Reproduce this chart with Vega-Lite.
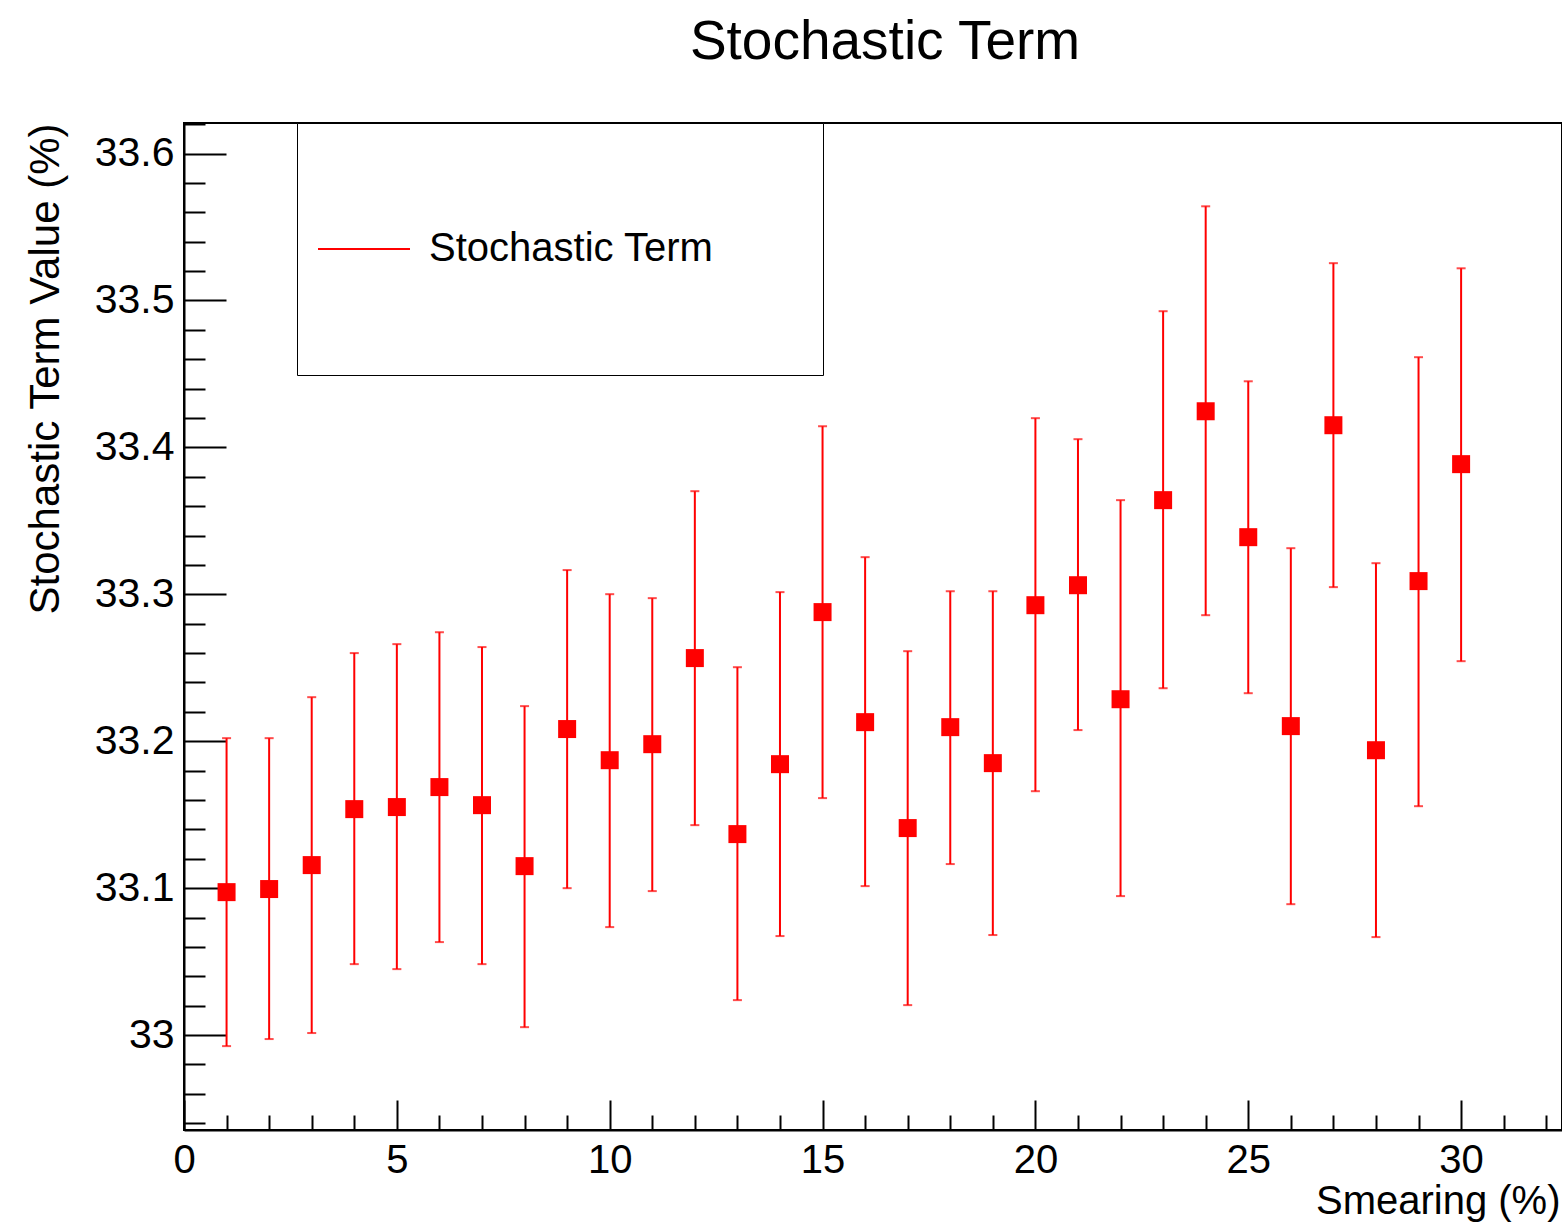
{
  "$schema": "https://vega.github.io/schema/vega-lite/v6.json",
  "width": 1378,
  "height": 1007,
  "autosize": {"type": "none"},
  "padding": {"left": 184, "top": 123, "right": 0, "bottom": 93},
  "background": "white",
  "config": {
    "font": "Liberation Sans",
    "view": {"stroke": "black", "strokeWidth": 2}
  },
  "title": {
    "text": "Stochastic Term",
    "font": "Liberation Sans",
    "fontSize": 55,
    "fontWeight": "normal",
    "color": "black",
    "anchor": "middle",
    "frame": "group",
    "baseline": "alphabetic",
    "offset": 9,
    "dx": 12
  },
  "resolve": {"axis": {"y": "independent"}},
  "data": {
    "values": [
      {"x": 1, "y": 33.0973, "lo": 32.9925, "hi": 33.2021, "series": "Stochastic Term"},
      {"x": 2, "y": 33.0994, "lo": 32.9973, "hi": 33.2021, "series": "Stochastic Term"},
      {"x": 3, "y": 33.1157, "lo": 33.0014, "hi": 33.2300, "series": "Stochastic Term"},
      {"x": 4, "y": 33.1538, "lo": 33.0483, "hi": 33.2600, "series": "Stochastic Term"},
      {"x": 5, "y": 33.1552, "lo": 33.0449, "hi": 33.2661, "series": "Stochastic Term"},
      {"x": 6, "y": 33.1688, "lo": 33.0633, "hi": 33.2742, "series": "Stochastic Term"},
      {"x": 7, "y": 33.1565, "lo": 33.0483, "hi": 33.2641, "series": "Stochastic Term"},
      {"x": 8, "y": 33.1150, "lo": 33.0054, "hi": 33.2239, "series": "Stochastic Term"},
      {"x": 9, "y": 33.2083, "lo": 33.1000, "hi": 33.3165, "series": "Stochastic Term"},
      {"x": 10, "y": 33.1871, "lo": 33.0735, "hi": 33.3001, "series": "Stochastic Term"},
      {"x": 11, "y": 33.1980, "lo": 33.0980, "hi": 33.2974, "series": "Stochastic Term"},
      {"x": 12, "y": 33.2566, "lo": 33.1429, "hi": 33.3702, "series": "Stochastic Term"},
      {"x": 13, "y": 33.1368, "lo": 33.0238, "hi": 33.2504, "series": "Stochastic Term"},
      {"x": 14, "y": 33.1844, "lo": 33.0674, "hi": 33.3015, "series": "Stochastic Term"},
      {"x": 15, "y": 33.2879, "lo": 33.1613, "hi": 33.4144, "series": "Stochastic Term"},
      {"x": 16, "y": 33.2130, "lo": 33.1014, "hi": 33.3253, "series": "Stochastic Term"},
      {"x": 17, "y": 33.1409, "lo": 33.0204, "hi": 33.2613, "series": "Stochastic Term"},
      {"x": 18, "y": 33.2096, "lo": 33.1164, "hi": 33.3021, "series": "Stochastic Term"},
      {"x": 19, "y": 33.1851, "lo": 33.0681, "hi": 33.3021, "series": "Stochastic Term"},
      {"x": 20, "y": 33.2926, "lo": 33.1660, "hi": 33.4199, "series": "Stochastic Term"},
      {"x": 21, "y": 33.3062, "lo": 33.2076, "hi": 33.4056, "series": "Stochastic Term"},
      {"x": 22, "y": 33.2286, "lo": 33.0946, "hi": 33.3641, "series": "Stochastic Term"},
      {"x": 23, "y": 33.3641, "lo": 33.2361, "hi": 33.4927, "series": "Stochastic Term"},
      {"x": 24, "y": 33.4246, "lo": 33.2858, "hi": 33.5641, "series": "Stochastic Term"},
      {"x": 25, "y": 33.3389, "lo": 33.2327, "hi": 33.4450, "series": "Stochastic Term"},
      {"x": 26, "y": 33.2103, "lo": 33.0891, "hi": 33.3314, "series": "Stochastic Term"},
      {"x": 27, "y": 33.4151, "lo": 33.3049, "hi": 33.5254, "series": "Stochastic Term"},
      {"x": 28, "y": 33.1939, "lo": 33.0667, "hi": 33.3212, "series": "Stochastic Term"},
      {"x": 29, "y": 33.3090, "lo": 33.1558, "hi": 33.4614, "series": "Stochastic Term"},
      {"x": 30, "y": 33.3886, "lo": 33.2545, "hi": 33.5219, "series": "Stochastic Term"}
    ]
  },
  "layer": [
    {
      "mark": {"type": "rule", "strokeWidth": 2},
      "encoding": {
        "x": {
          "field": "x",
          "type": "quantitative",
          "scale": {"domain": [0, 32.37], "nice": false, "zero": false},
          "axis": {
            "values": [0, 1, 2, 3, 4, 5, 6, 7, 8, 9, 10, 11, 12, 13, 14, 15, 16, 17, 18, 19, 20, 21, 22, 23, 24, 25, 26, 27, 28, 29, 30, 31, 32],
            "grid": false,
            "domainColor": "black",
            "domainWidth": 2,
            "tickColor": "black",
            "tickWidth": 2,
            "tickSize": {"condition": {"test": "datum.value % 5 === 0", "value": -30}, "value": -15},
            "labelExpr": "datum.value % 5 === 0 ? datum.label : ''",
            "labelFont": "Liberation Sans",
            "labelFontSize": 40,
            "labelColor": "black",
            "labelPadding": 40,
            "labelFlush": false,
            "labelOverlap": false,
            "title": "Smearing (%)",
            "titleFont": "Liberation Sans",
            "titleFontSize": 40,
            "titleFontWeight": "normal",
            "titleColor": "black",
            "titleAlign": "right",
            "titleBaseline": "alphabetic",
            "titleX": 1376,
            "titleY": 83
          }
        },
        "y": {
          "field": "lo",
          "type": "quantitative",
          "scale": {"domain": [32.9354, 33.6208], "nice": false, "zero": false},
          "axis": {
            "orient": "left",
            "values": [33, 33.1, 33.2, 33.3, 33.4, 33.5, 33.6],
            "format": "~f",
            "grid": false,
            "domainColor": "black",
            "domainWidth": 2,
            "tickColor": "black",
            "tickWidth": 2,
            "tickSize": -42,
            "labelFont": "Liberation Sans",
            "labelFontSize": 41,
            "labelColor": "black",
            "labelPadding": 52,
            "labelFlush": false,
            "labelOverlap": false,
            "title": "Stochastic Term Value (%)",
            "titleFont": "Liberation Sans",
            "titleFontSize": 42,
            "titleFontWeight": "normal",
            "titleColor": "black",
            "titleAngle": 270,
            "titleAlign": "right",
            "titleBaseline": "alphabetic",
            "titleX": -126,
            "titleY": 0
          }
        },
        "y2": {"field": "hi"},
        "color": {
          "field": "series",
          "type": "nominal",
          "scale": {"range": ["red"]},
          "legend": {
            "orient": "none",
            "legendX": 113,
            "legendY": 0,
            "title": " ",
            "titleOrient": "right",
            "titleFontSize": 1,
            "titlePadding": 89,
            "padding": 20,
            "strokeColor": "black",
            "fillColor": "white",
            "symbolType": "stroke",
            "symbolSize": 8464,
            "symbolStrokeWidth": 2,
            "symbolStrokeColor": "red",
            "labelFont": "Liberation Sans",
            "labelFontSize": 40,
            "labelColor": "black",
            "labelOffset": 18,
            "labelLimit": 600,
            "clipHeight": 212
          }
        }
      }
    },
    {
      "mark": {"type": "tick", "orient": "horizontal", "size": 9, "thickness": 2, "color": "red"},
      "encoding": {
        "x": {"field": "x", "type": "quantitative"},
        "y": {
          "field": "lo",
          "type": "quantitative",
          "axis": {
            "orient": "left",
            "values": [32.94, 32.96, 32.98, 33.02, 33.04, 33.06, 33.08, 33.12, 33.14, 33.16, 33.18, 33.22, 33.24, 33.26, 33.28, 33.32, 33.34, 33.36, 33.38, 33.42, 33.44, 33.46, 33.48, 33.52, 33.54, 33.56, 33.58, 33.62],
            "grid": false,
            "domain": false,
            "labels": false,
            "title": null,
            "tickColor": "black",
            "tickWidth": 2,
            "tickSize": -21
          }
        }
      }
    },
    {
      "mark": {"type": "tick", "orient": "horizontal", "size": 9, "thickness": 2, "color": "red"},
      "encoding": {
        "x": {"field": "x", "type": "quantitative"},
        "y": {"field": "hi", "type": "quantitative", "axis": null}
      }
    },
    {
      "mark": {"type": "square", "size": 324, "color": "red", "filled": true, "opacity": 1, "strokeWidth": 0},
      "encoding": {
        "x": {"field": "x", "type": "quantitative"},
        "y": {"field": "y", "type": "quantitative", "axis": null}
      }
    }
  ]
}
